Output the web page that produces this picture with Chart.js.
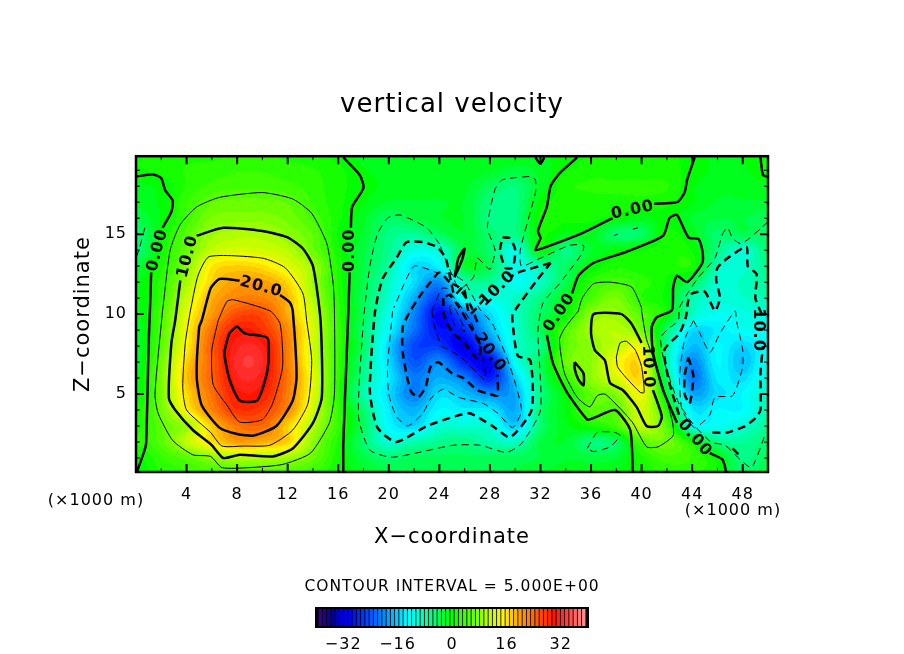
<!DOCTYPE html>
<html>
<head>
<meta charset="utf-8">
<title>vertical velocity</title>
<script src="https://cdn.jsdelivr.net/npm/chart.js@4"></script>
<style>
    body { margin: 0; background: #fff; }
    #wrap { position: relative; width: 904px; height: 654px; }
    canvas { position: absolute; left: 0; }
</style>
</head>
<body>
<div id="wrap">
    <canvas id="chart-field" width="904" height="654" style="top:0"></canvas>
    <canvas id="chart-bar" width="904" height="60" style="top:594px"></canvas>
</div>
<script>
// ************************ axes ************************
const x_ticks = [4, 8, 12, 16, 20, 24, 28, 32, 36, 40, 44, 48];
const x_minor = [2, 6, 10, 14, 18, 22, 26, 30, 34, 38, 42, 46, 50];
const z_ticks = [5, 10, 15];
const z_minor = [1, 2, 3, 4, 6, 7, 8, 9, 11, 12, 13, 14, 16, 17, 18, 19];
const bar_ticks = [-32, -16, 0, 16, 32];

// ************************ w field, km grid ************************
const grid_x = [0, 2, 4, 6, 8, 10, 12, 14, 16, 18, 20, 22, 24, 26, 28, 30, 32, 34, 36, 38, 40, 42, 44, 46, 48, 50];
const grid_z = [0, 1, 2, 3, 4, 5, 6, 7, 8, 9, 10, 11, 12, 13, 14, 15, 16, 17, 18, 19, 20];
const w_z0 = [-1, 2, 3, 4, 4.5, 4.5, 4.5, 3, 0.5, -1.5, -3, -3, -3, -3, -3, -3, -2, -1, -1, -0.5, 1, 2, 2, 0.5, -5, -3];
const w_z1 = [0, 3, 5, 8, 10, 10, 9, 6, 1, -3, -5, -4, -4, -4, -4, -4, -3, -2, -2.5, -2, 1.5, 4, 3, 0, -6, -4];
const w_z2 = [2, 5, 11, 16, 20, 19, 17, 8, 1.5, -5, -10, -8, -6.5, -6, -8, -9, -3, -2, -5.5, -4, 4.5, 6.5, 1, -6, -7, -5];
const w_z3 = [1, 5.5, 9, 17.5, 23, 24, 17, 10, 3, -4, -13, -15.5, -10, -10, -10, -16, -5, -1, 1, 4, 11, 5, -11, -12, -10, -7];
const w_z4 = [1, 6.5, 15, 22, 28, 27, 21.5, 12, 3, -5, -14, -17.5, -13, -14, -14, -18, -5, -0.5, 5, 5, 12, 2, -14, -13, -13, -8];
const w_z5 = [-1, 7, 16.5, 23.5, 30, 29.5, 22.5, 13, 2, -8, -15, -21, -15, -17, -20, -18, -6, 0, 5.5, 7.5, 14, -2, -18, -15, -13, -9];
const w_z6 = [-1, 7, 18, 24.5, 31.5, 31, 23, 13.5, 2.5, -6.5, -14, -21, -18, -21, -28, -16, -5, 3, 8, 12.5, 16, -5, -21, -14, -15, -10];
const w_z7 = [-2, 6.5, 17, 24.5, 32.5, 32, 22.5, 12.5, 3, -6, -15, -24, -20, -28, -30, -12, -4, 6, 8, 14, 15.5, -8, -20, -13, -17, -11];
const w_z8 = [-2, 5, 15, 25, 31.5, 31, 22.5, 12, 3, -4.5, -15.5, -25, -26, -31, -22, -10, -6, 5, 8, 11, 13, -7, -17, -13, -15.5, -12];
const w_z9 = [-2, 4.5, 14.5, 23.5, 29.5, 28, 21.5, 12.5, 3, -5, -13, -22, -29, -27, -17, -10, -4, 4.5, 9, 10.5, 6.5, -5, -15, -14, -12, -12];
const w_z10 = [-1, 4, 13.5, 20.5, 26, 26, 19, 11.5, 2.5, -4, -11.5, -20.5, -30, -22, -15, -9.5, -4.5, 0, 8, 8.5, 5, 0.5, -9, -12, -11, -10];
const w_z11 = [-1, 3, 11.5, 19, 22, 22, 18.5, 10, 2, -4, -10, -18, -25, -10, -11, -9, -6, -1, 4, 7, 2, 0, -8, -10, -9.5, -8];
const w_z12 = [-1, 2.5, 9.5, 17, 20, 20, 16.5, 9, 1.5, -3.5, -9, -15, -20, -8, -7, -12, -9, -3.5, 2.5, 4, 2.5, 0.5, -3.5, -10, -9, -7];
const w_z13 = [-2.5, 1.5, 7.5, 15.5, 17, 16, 13, 9, 1.5, -3, -7.5, -15, -13, -2, -4, -11, -8, -4.5, -0.5, 1.5, 1, 1, 1.5, -8.5, -10, -6];
const w_z14 = [-5.5, 0.5, 6, 11, 12.5, 12, 10.5, 6, 1, -3, -6.5, -11, -10, -3, -5, -11, 0, -6, -2, -0.5, 0.5, 1.5, 0.5, -6, -10, -5];
const w_z15 = [-5.5, 0.1, 5, 9, 10, 10, 8, 5.5, 0.5, -2, -6, -7, -4, -2, -5, -6, 0.5, -1, -1, -5, -4.5, 1, -1, -5, -3.5, -5];
const w_z16 = [-3, -0.5, 3.5, 7, 7.5, 7.5, 6.5, 4, 1, -1.5, -4.5, -3, -2, -2, -6, -6, 1, 1, 1, 0, -1, 0, -2, -3, -3, -4];
const w_z17 = [-1.5, -0.3, 3, 5.5, 6, 6, 5.5, 3, 1, -0.5, -2, -2, -2, -2, -5.5, -6, 0, 1, 1.5, 1.5, 1.5, 1, -0.5, -2, -2, -2];
const w_z18 = [-1, -0.2, 2, 3.5, 4, 4, 3.5, 2.5, 1, 0, -1, -1, -1, -1.5, -4, -5.5, -1.5, 1.5, 2, 2, 2, 2, -0.5, -1.5, -1.5, -1];
const w_z19 = [0.5, 1, 2, 2.5, 3, 3, 2.5, 2, 1, -0.5, -1, -1, -1, -1, -1.5, -2.5, -1.5, 0.5, 1.5, 1.5, 1.5, 1, 0.3, -1, -1, 1];
const w_z20 = [0.5, 1, 1.5, 1.5, 2, 2, 1.5, 1, 0, -1, -1, -1, -1, -1, -1, -1, -0.5, -0.5, 0.8, 1, 1, 1, 0, -1, -0.5, 0.5];
const w_rows = [w_z0, w_z1, w_z2, w_z3, w_z4, w_z5, w_z6, w_z7, w_z8, w_z9, w_z10, w_z11, w_z12, w_z13, w_z14, w_z15, w_z16, w_z17, w_z18, w_z19, w_z20];

// ************************ contours as [x km, z km], null = gap ************************
const c_zero_1 = [[0, 18.6], [1.3, 18.75], [2, 18.5], [2.3, 17.75], [2.9, 17.1], [2.8, 16.4], [2.1, 15.4], null, [1.2, 12.6], [1.1, 10.2], [1, 8.2], [0.8, 1.9], [0.6, 1.3], [0.1, 0.2]];
const c_zero_2 = [[16.4, 19.8], [17.7, 18.7], [18, 17.9], [17.1, 16.7], [17, 15.4], null, [16.9, 12.6], [16.8, 10.2], [16.6, 6.1], [16.4, 1.9], [16.4, 0.1]];
const c_zero_3 = [[34.9, 19.8], [33.5, 18.8], [32.8, 18], [32.5, 16.7], [31.8, 15.2], [32, 14.75], [31.6, 14], [32.8, 14.3], [35.4, 15.1], [37.7, 16], null, [41, 16.9], [42.8, 17], [43.4, 17.6], [43.6, 18.4], [44.2, 19.8]];
const c_zero_4 = [[31.6, 19.8], [32, 19.4], [32.3, 19.8]];
const c_zero_5 = [[49.4, 19.8], [49.6, 18.7], [49.9, 18.6]];
const c_zero_6 = [[39.3, 0.1], [39.1, 2.75], [37.9, 4], [36.2, 3.5], [35.7, 3.4], [34.1, 5.1], [33, 6.9], [32.5, 8.7], null, [34.5, 11.3], [35, 12.4], [36.2, 13.2], [38.8, 13.9], [41.7, 14.9], [42.2, 16], [42.8, 16.2], [43.7, 14.8], [44.5, 14.7], [44.8, 14], [44.8, 13.2], [43.6, 12], [42.8, 12.4], [42.5, 11.7], [42.4, 10.25], [41.2, 9.8], [40.8, 9.2], [40.9, 7.6], [41.7, 5.25], [42.8, 3.2], null, [45.4, 1.3], [46.4, 0.9], [46.7, 0.1]];
const c_zero_7 = [[25.2, 12.3], [25.8, 13.4], [26, 14.1], [25.5, 13.5], [25.2, 12.3]];

const c_p5_1 = [[2.1, 10.2], [2.7, 14], [3.5, 15.6], [4.8, 16.7], [6.6, 17.3], [10, 17.6], [12.4, 17.2], [13.9, 16.3], [15.1, 14.4], [15.6, 11.9], [15.7, 10.2], [15.7, 5], [15.3, 3.2], [13.8, 1.3], [11.6, 0.6], [9, 0.4], [6.8, 0.4], [5.9, 1.1], [4.5, 1.2], [2.9, 2.1], [1.75, 3.8], [1.5, 5], [2.1, 10.2]];
const c_p5_2 = [[35, 10.2], [35.3, 11], [36.2, 11.9], [37.5, 12], [39.2, 11.7], [40, 10.4], [40, 10.2], [40.4, 8.4], [41.2, 6.7], [42.4, 3.4], [42.5, 2.4], [41.3, 1.7], [40.4, 1.7], [39.3, 3.2], [38.3, 4.1], [37.1, 5], [36.5, 4.9], [35.9, 4.2], [34.9, 4.8], [33.9, 6.3], [33.5, 8.4], [33.9, 9.1], [35, 10.2]];

const c_p10_1 = [[4.8, 14.9], [6.9, 15.4], [10, 15.2], [12, 14.8], [13.2, 14.1], [14, 13], [14.6, 9.6], [14.7, 4.8], [14, 3.2], [12.4, 1.6], [10.8, 1.1], [8.2, 1.2], [6.9, 1], [6, 1.8], [4.5, 2.75], [3.1, 4], [2.6, 4.75], [2.8, 8.2], [3.1, 9.6], [3.5, 12.1]];
const c_p10_2 = [[40, 8.2], [39.2, 9.4], [38.4, 10], [36.2, 10], [36, 8.8], [36.3, 7.75], [37.1, 7.1], [37.5, 5.7], [38.5, 5.25], [39.6, 4.2], [40.4, 3], [41.3, 3], [41.6, 3.6], [40.9, 5.25]];
const c_p10_3 = [[34.7, 7], [35.4, 6.3], [35.4, 5.55], [35, 5.9], [34.7, 6.6], [34.7, 7]];

const c_p15_1 = [[4.3, 10.2], [4.9, 12.4], [5.8, 13.6], [10, 13.5], [11.8, 12.9], [13.2, 11.3], [13.5, 9.6], [13.9, 7.1], [13.6, 4.4], [12.4, 2.75], [10.6, 1.8], [8.5, 1.75], [6.8, 1.75], [5.9, 2.6], [4, 4], [3.7, 5.4], [3.9, 8.2], [4.3, 10.2]];
const c_p15_2 = [[38, 7.3], [38.3, 8.2], [38.8, 8.3], [39.5, 7.75], [40, 6.7], [40.2, 5.1], [39.9, 5.1], [38.8, 6], [38.1, 6.7], [38, 7.3]];

const c_p20 = [[8.2, 12.1], [6.6, 12.2], [5.9, 11.6], [5.2, 9.6], [5, 9.2], [4.8, 6.1], [5.2, 4.3], [6.6, 2.9], [8, 2.5], [9.3, 2.4], [11.1, 3], [12.4, 4.6], [12.7, 6.1], [12.4, 10.2], [12.2, 10.7], [11.4, 11.2]];
const c_p25 = [[6.5, 9.6], [7.2, 10.8], [7.7, 10.9], [10.6, 10.2], [11.4, 9.4], [11.6, 6.7], [10.8, 4.4], [10, 3.4], [8.2, 3.25], [7.2, 4.3], [6.1, 5.6], [6, 7.75], [6.5, 9.6]];
const c_p30 = [[8, 9.25], [8.6, 8.8], [10.4, 8.5], [10.4, 6.5], [9.6, 4.6], [8.2, 4.6], [7.4, 5.9], [7, 7.55], [7.4, 8.8], [8, 9.25]];

const c_m5_1 = [[24, 14.4], [23, 15.4], [20.9, 16.2], [19.9, 16], [19.1, 15], [18.5, 13], [18, 9.6], [17.6, 3.6], [18.5, 1.5], [20.3, 1.05], [25.1, 1.8], [27.2, 1.8], [29.3, 1.35], [30.5, 1.9], [32, 4], [31.8, 9], [32.2, 10.7], [33.5, 11.9], [35.3, 13.8], [35.4, 14.3], [34.3, 14.3], [32, 13.5], [30.5, 13], [30.4, 14], [31.6, 17.6], [31.6, 18.4], [31.2, 18.6], [29, 18.4], [28.4, 17.8], [27.8, 15.4], [28.4, 14], [28, 12.8], [27, 13.5], [26.7, 12.3], [25.6, 11.6], [24.7, 13], [24, 14.4]];
const c_m5_2 = [[50, 15.8], [49.5, 15.4], [47.9, 14.4], [47.2, 14.75], [46.8, 15.4], [46.4, 15], [45.8, 13.5], [44.5, 12.3], [43.8, 11.5], [43, 10.4], [42.9, 9.6], [42, 9], [41.5, 8.5], [41.8, 7], [42.9, 4.5], [44, 3.2], [45.5, 2], [46.6, 1.8], [47.8, 0.9], [48.7, 0.4], [49.8, 2.5]];
const c_m5_3 = [[35.7, 1.6], [36.5, 2.6], [37.9, 2.6], [38.3, 2.4], [37.5, 1.7], [36.2, 1.4], [35.7, 1.6]];
const c_m5_4 = [[38.1, 15], [37.8, 14.9]];
const c_m5_5 = [[39.7, 15.4], [39.3, 15.3]];
const c_m5_6 = [[0.7, 15.4], [0.3, 14.2], [0, 13.5]];

const c_m10_1 = [[32.8, 13.2], [30.2, 12.6], [29.6, 12.3], null, [27.6, 11], [26.4, 10], [25.9, 11.7], [25.2, 11.2], [24.9, 12.1], [24.5, 13.5], [23.8, 14.2], [22.7, 14.5], [21.4, 14.5], [20.6, 13.5], [19.5, 12.2], [18.9, 10.1], [18.5, 5.2], [19.1, 2.9], [20.6, 2], [23, 3], [25.2, 3.6], [26.4, 3.8], [28.2, 3], [29.6, 2.3], [31.3, 4], [31.2, 7.1], [30.2, 7.4], [29.8, 9.4], [29.8, 10], [31.7, 12.1], [32.8, 13.2]];
const c_m10_2 = [[49.5, 10], [49, 11], [49.1, 12.5], [48.4, 13], [48.3, 14.2], [46.8, 13.5], [46, 12.9], [45.9, 12.1], [46.2, 11], [45.8, 10.2], [45, 11.4], [44, 11.3], [43.7, 10.9], [43.5, 9.8], [43, 8.8], [41.8, 7.75], [42.2, 5.7], [43, 3.6], null, [45.6, 2.6], [46.8, 2.6], [48.2, 3], [49, 3.5], [49.4, 4], [49.4, 6.3], [49.6, 8]];
const c_m10_3 = [[29, 14.8], [29.6, 14.75], [30, 14], [29.8, 12.9], [29.2, 12.9], [28.8, 14], [29, 14.8]];
const c_m10_4 = [[47.2, 1.6], [47.7, 1.2]];

const c_m15_1 = [[20.3, 10.2], [19.9, 6.7], [20, 5], [20.6, 3.6], [21.5, 3], [22.7, 3.8], [23.3, 4.7], [24.3, 5.3], [25.5, 4.8], [27.5, 4.4], [28.6, 3.8], [29.8, 2.9], [30.5, 4], [29.6, 6.7], [28.2, 9.4], [27.2, 10.3], [26, 12], [25, 12.5], [23.8, 12.6], [22, 13], [20.4, 10.4]];
const c_m15_2 = [[44.1, 9.6], [43.4, 8.4], [43, 6.1], [43.2, 4], [44.2, 2.9], [45.4, 3.7], [45.8, 4.8], [47.2, 4.9], [48, 6.7], [48, 7.75], [47.5, 9.6], [47.4, 10.2], [46.2, 8.8], [45.4, 7.6], [44.5, 9], [44.1, 9.6]];
const c_m20_1 = [[24.8, 12], [24, 12.6], [23.3, 12], [22.6, 11.3], [21.7, 10.2], [21.1, 9.2], [21.1, 7.6], [21.7, 5.25], [22.3, 4.8], [22.9, 5.4], [23.3, 6.7], [23.9, 7], [25, 6.3], [25.9, 6], [27, 5.25], [28, 5], [28.6, 4.9], [28.6, 6.2], null, [27, 9.5], [26.5, 10.5], [25.5, 11.7], [24.8, 12]];
const c_m20_2 = [[43.7, 7.3], [44.1, 6.1], [43.8, 4.4], [43.4, 5], [43.4, 6.1], [43.7, 7.3]];
const c_m25 = [[23.4, 10.2], [23.7, 9], [24.2, 8], [24.8, 7.75], [25.8, 7.25], [27.6, 5.9], [27.5, 7], [26.5, 9.5], [24.6, 11.6], [24.2, 11.6], [23.4, 10.2]];
const c_m30 = [[24.3, 11], [24.4, 9.8], [25.1, 8.8], [26, 8.2], [27, 7.2], [27.3, 8], [26.4, 9.3], [25.5, 10.5], [24.8, 11.2], [24.3, 11]];
const c_m35 = [[24.8, 10.4], [25.2, 9.4], [26, 8.9], [25.6, 9.8], [25, 10.6], [24.8, 10.4]];

const contours_zero = [c_zero_1, c_zero_2, c_zero_3, c_zero_4, c_zero_5, c_zero_6, c_zero_7];
const contours_thin = [c_p5_1, c_p5_2, c_p15_1, c_p15_2, c_p25];
const contours_thick = [c_p10_1, c_p10_2, c_p10_3, c_p20, c_p30];
const contours_thin_neg = [c_m5_1, c_m5_2, c_m5_3, c_m5_4, c_m5_5, c_m5_6, c_m15_1, c_m15_2, c_m25, c_m35];
const contours_thick_neg = [c_m10_1, c_m10_2, c_m10_3, c_m10_4, c_m20_1, c_m20_2, c_m30];

// contour labels
const label_text = ['0.00', '10.0', '20.0', '0.00', '0.00', '0.00', '10.0', '20.0', '10.0', '0.00', '10.0'];
const label_x = [1.7, 4.1, 9.9, 16.9, 39.3, 33.5, 28.6, 28, 40.5, 44.2, 49.2];
const label_z = [14, 13.6, 11.7, 14, 16.5, 10.1, 11.6, 7.6, 6.7, 2.25, 9];
const label_rot = [-75, -75, 15, -90, -12, -55, -45, 55, 88, 50, 90];

// colour bar levels
const bar_levels = [-38.75, -37.5, -36.25, -35, -33.75, -32.5, -31.25, -30, -28.75, -27.5, -26.25, -25, -23.75, -22.5, -21.25, -20, -18.75, -17.5, -16.25, -15, -13.75, -12.5, -11.25, -10, -8.75, -7.5, -6.25, -5, -3.75, -2.5, -1.25, 0, 1.25, 2.5, 3.75, 5, 6.25, 7.5, 8.75, 10, 11.25, 12.5, 13.75, 15, 16.25, 17.5, 18.75, 20, 21.25, 22.5, 23.75, 25, 26.25, 27.5, 28.75, 30, 31.25, 32.5, 33.75, 35, 36.25, 37.5, 38.75];

// colour table
const cmap_values = [-40, -35, -30, -25, -20, -13, -10, -5, 0, 5, 10, 15, 20, 25, 30, 33, 40];
const cmap_colors = [
    [70, 0, 130], [0, 0, 160], [0, 0, 255], [0, 70, 255], [0, 140, 255], [0, 255, 255], [0, 255, 215], [0, 255, 110],
    [0, 255, 0], [85, 255, 0], [175, 255, 0], [255, 245, 0], [255, 160, 0], [255, 90, 0], [255, 20, 0], [255, 50, 50], [255, 160, 160]
];

const FONT = '"DejaVu Sans"';

function level_color(v) {
    v = Math.round(v / 1.25) * 1.25;
    v = Math.max(-40, Math.min(40, v));
    let i = 0;
    while (i < cmap_values.length - 2 && v > cmap_values[i + 1]) i++;
    const t = (v - cmap_values[i]) / (cmap_values[i + 1] - cmap_values[i]);
    const a = cmap_colors[i], b = cmap_colors[i + 1];
    return [0, 1, 2].map(k => Math.round(a[k] + (b[k] - a[k]) * t));
}

// catmull-rom on the grid, just for painting the field
function cr(p0, p1, p2, p3, t) {
    return 0.5 * (2 * p1 + (p2 - p0) * t + (2 * p0 - 5 * p1 + 4 * p2 - p3) * t * t + (3 * p1 - p0 - 3 * p2 + p3) * t * t * t);
}
function w_at(x, z) {
    const gx = Math.max(0, Math.min(grid_x.length - 1.001, x / 2));
    const gz = Math.max(0, Math.min(grid_z.length - 1.001, z));
    const i = Math.floor(gx), j = Math.floor(gz);
    const row = r => {
        const w = w_rows[Math.max(0, Math.min(w_rows.length - 1, r))];
        const at = c => w[Math.max(0, Math.min(w.length - 1, c))];
        return cr(at(i - 1), at(i), at(i + 1), at(i + 2), gx - i);
    };
    return cr(row(j - 1), row(j), row(j + 1), row(j + 2), gz - j);
}

const spacing_plugin = {
    id: 'spacing',
    beforeDraw(chart) {
        chart.ctx.letterSpacing = '1px';
    }
};

const field_plugin = {
    id: 'field',
    beforeDatasetsDraw(chart) {
        const { ctx, chartArea: a, scales } = chart;
        const w = Math.round(a.right - a.left), h = Math.round(a.bottom - a.top);
        const img = ctx.createImageData(w, h);
        for (let py = 0; py < h; py++) {
            const z = scales.y.getValueForPixel(a.top + py + 0.5);
            for (let px = 0; px < w; px++) {
                const x = scales.x.getValueForPixel(a.left + px + 0.5);
                const c = level_color(w_at(x, z));
                const n = (py * w + px) * 4;
                img.data[n] = c[0]; img.data[n + 1] = c[1]; img.data[n + 2] = c[2]; img.data[n + 3] = 255;
            }
        }
        ctx.putImageData(img, Math.round(a.left), Math.round(a.top));
    },
    afterDatasetsDraw(chart) {
        const { ctx, chartArea: a, scales } = chart;
        // contour labels
        ctx.save();
        ctx.fillStyle = '#000';
        ctx.letterSpacing = '1px';
        ctx.font = 'bold 16px ' + FONT;
        ctx.textAlign = 'center';
        ctx.textBaseline = 'middle';
        label_text.forEach((t, i) => {
            ctx.save();
            ctx.translate(scales.x.getPixelForValue(label_x[i]), scales.y.getPixelForValue(label_z[i]));
            ctx.rotate(label_rot[i] * Math.PI / 180);
            ctx.fillText(t, 0, 0);
            ctx.restore();
        });
        // inward ticks, top and bottom, left and right
        ctx.strokeStyle = '#000';
        const tick_x = (list, len, lw) => {
            ctx.lineWidth = lw;
            list.forEach(v => {
                const p = scales.x.getPixelForValue(v);
                ctx.beginPath();
                ctx.moveTo(p, a.top); ctx.lineTo(p, a.top + len);
                ctx.moveTo(p, a.bottom); ctx.lineTo(p, a.bottom - len);
                ctx.stroke();
            });
        };
        const tick_z = (list, len, lw) => {
            ctx.lineWidth = lw;
            list.forEach(v => {
                const p = scales.y.getPixelForValue(v);
                ctx.beginPath();
                ctx.moveTo(a.left, p); ctx.lineTo(a.left + len, p);
                ctx.moveTo(a.right, p); ctx.lineTo(a.right - len, p);
                ctx.stroke();
            });
        };
        tick_x(x_ticks, 8, 2);
        tick_x(x_minor, 4, 1);
        tick_z(z_ticks, 8, 2);
        tick_z(z_minor, 4, 1);
        ctx.lineWidth = 2.5;
        ctx.strokeRect(a.left, a.top, a.right - a.left, a.bottom - a.top);
        // captions
        ctx.font = '16px ' + FONT;
        ctx.fillText('(\u00d71000 m)', 96, 501);
        ctx.fillText('(\u00d71000 m)', 733, 511);
        ctx.font = '15.5px ' + FONT;
        ctx.fillText('CONTOUR INTERVAL = 5.000E+00', 452, 587);
        ctx.restore();
    }
};

function to_points(line) {
    return line.map(p => p ? { x: p[0], y: p[1] } : { x: null, y: null });
}
function line_dataset(line, width, dash) {
    return {
        data: to_points(line),
        showLine: true,
        pointRadius: 0,
        borderColor: '#000',
        borderWidth: width,
        borderDash: dash,
        tension: 0.2,
        spanGaps: false
    };
}

const datasets_field = [
    ...contours_zero.map(l => line_dataset(l, 2.5, [])),
    ...contours_thin.map(l => line_dataset(l, 1, [])),
    ...contours_thick.map(l => line_dataset(l, 2.5, [])),
    ...contours_thin_neg.map(l => line_dataset(l, 1, [7, 5])),
    ...contours_thick_neg.map(l => line_dataset(l, 2.5, [8, 5]))
];

const config_field = {
    type: 'scatter',
    data: { datasets: datasets_field },
    options: {
        responsive: false,
        animation: false,
        layout: { padding: { left: 0, right: 0, top: 0, bottom: 104 } },
        plugins: {
            legend: { display: false },
            tooltip: { enabled: false },
            title: {
                display: true,
                text: 'vertical velocity',
                color: '#000',
                font: { family: FONT, size: 26, weight: 'normal' },
                padding: { top: 90, bottom: 35 }
            }
        },
        scales: {
            x: {
                type: 'linear',
                min: 0,
                max: 50,
                afterBuildTicks: s => { s.ticks = x_ticks.map(v => ({ value: v })); },
                afterFit: s => { s.height = 78; },
                grid: { display: false, drawTicks: false },
                border: { display: false },
                ticks: { color: '#000', font: { family: FONT, size: 16 }, padding: 13, maxRotation: 0, autoSkip: false },
                title: { display: true, text: 'X\u2212coordinate', color: '#000', font: { family: FONT, size: 21 }, padding: 0 }
            },
            y: {
                type: 'linear',
                min: 0.125,
                max: 19.875,
                afterBuildTicks: s => { s.ticks = z_ticks.map(v => ({ value: v })); },
                afterFit: s => { s.width = 136; },
                grid: { display: false, drawTicks: false },
                border: { display: false },
                ticks: { color: '#000', font: { family: FONT, size: 16 }, padding: 9, autoSkip: false },
                title: { display: true, text: 'Z\u2212coordinate', color: '#000', font: { family: FONT, size: 21 }, padding: { top: 71, bottom: 0 } }
            },
            y_margin: {
                type: 'linear',
                position: 'right',
                min: 0,
                max: 1,
                afterFit: s => { s.width = 136; },
                grid: { display: false, drawTicks: false },
                border: { display: false },
                ticks: { display: false }
            }
        }
    },
    plugins: [spacing_plugin, field_plugin]
};

var chart_field = new Chart(document.getElementById('chart-field'), config_field);

// ************************************************************************

const bar_box_plugin = {
    id: 'barbox',
    beforeDatasetsDraw(chart) {
        const { ctx, chartArea: a } = chart;
        ctx.fillStyle = '#000';
        ctx.fillRect(a.left, a.top, a.right - a.left, a.bottom - a.top);
    },
    afterDatasetsDraw(chart) {
        const { ctx, chartArea: a } = chart;
        ctx.strokeStyle = '#000';
        ctx.lineWidth = 2;
        ctx.strokeRect(a.left, a.top, a.right - a.left, a.bottom - a.top);
    }
};

const config_bar = {
    type: 'bar',
    data: {
        datasets: [{
            data: bar_levels.map(v => ({ x: v, y: 1 })),
            backgroundColor: bar_levels.map(v => {
                const c = level_color(v);
                return 'rgb(' + c[0] + ',' + c[1] + ',' + c[2] + ')';
            }),
            barPercentage: 0.8,
            categoryPercentage: 1
        }]
    },
    options: {
        responsive: false,
        animation: false,
        layout: { padding: { left: 316, right: 316, top: 14, bottom: 0 } },
        plugins: { legend: { display: false }, tooltip: { enabled: false } },
        scales: {
            x: {
                type: 'linear',
                min: -40,
                max: 40,
                offset: false,
                afterBuildTicks: s => { s.ticks = bar_ticks.map(v => ({ value: v })); },
                afterFit: s => { s.height = 27; },
                grid: { display: false, drawTicks: false },
                border: { display: false },
                ticks: {
                    color: '#000',
                    font: { family: FONT, size: 16 },
                    padding: 8,
                    maxRotation: 0,
                    autoSkip: false,
                    callback: v => String(v).replace('-', '\u2212')
                }
            },
            y: { display: false, min: 0, max: 1 }
        }
    },
    plugins: [spacing_plugin, bar_box_plugin]
};

var chart_bar = new Chart(document.getElementById('chart-bar'), config_bar);
</script>
</body>
</html>
